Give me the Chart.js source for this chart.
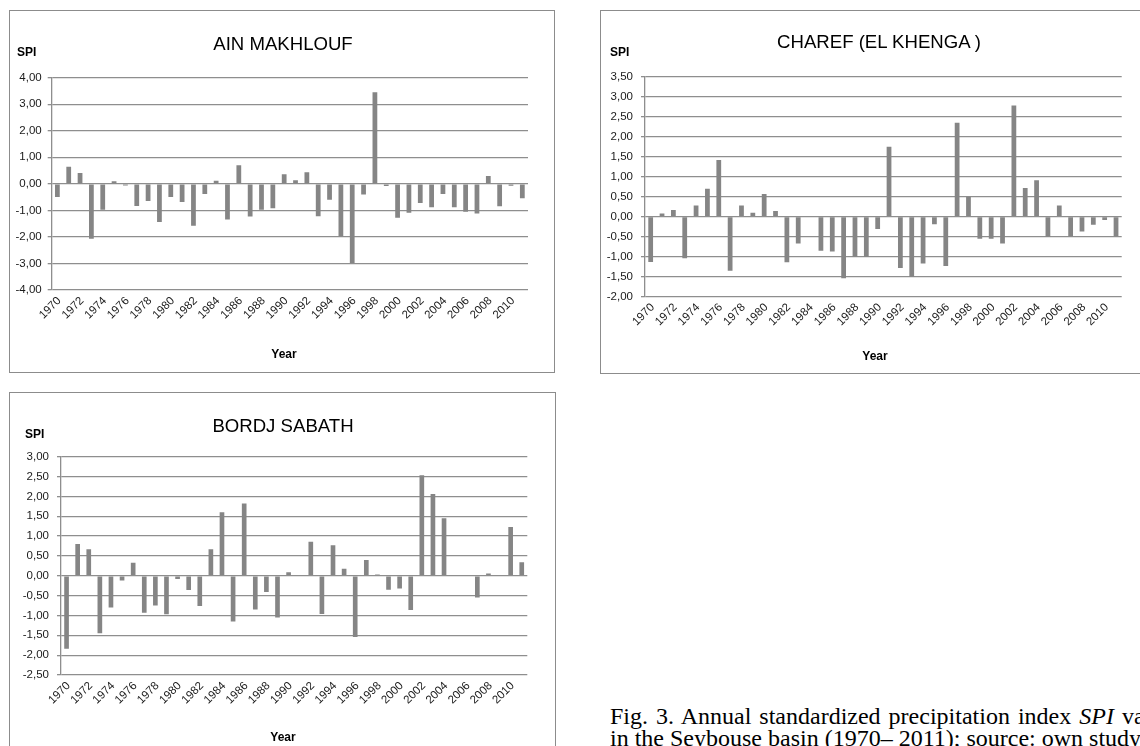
<!DOCTYPE html>
<html>
<head>
<meta charset="utf-8">
<script src="https://cdn.jsdelivr.net/npm/chart.js@4.4.1/dist/chart.umd.min.js"></script>
<style>
  html, body { margin:0; padding:0; background:#fff; width:1140px; height:746px; overflow:hidden; position:relative; }
  .box { position:absolute; border:1.5px solid #8c8c8c; box-sizing:border-box; }
  canvas { position:absolute; }
  .t { position:absolute; font-family:"Liberation Sans", Arial, sans-serif; color:#000; white-space:nowrap; transform:translate(-50%,-50%); }
  .title { font-size:18.6px; }
  .lab { font-size:12px; font-weight:bold; }
  .spi { transform:translate(0,-50%); }
  .cap { position:absolute; left:610px; top:705px; font-family:"Liberation Serif","Times New Roman",serif; font-size:24px; line-height:22px; white-space:nowrap; color:#000; }
  .cap .l1 { word-spacing:2px; }
</style>
</head>
<body>
<div class="box" style="left:9px;top:10px;width:546px;height:363px"></div>
<div class="box" style="left:600px;top:10px;width:546px;height:364px"></div>
<div class="box" style="left:9px;top:392px;width:547px;height:368px"></div>

<canvas id="c1" width="546" height="363" style="left:9px;top:10px"></canvas>
<canvas id="c2" width="546" height="364" style="left:600px;top:10px"></canvas>
<canvas id="c3" width="547" height="368" style="left:9px;top:392px"></canvas>

<div class="t title" style="left:283px;top:44px">AIN MAKHLOUF</div>
<div class="t lab spi" style="left:17px;top:52px">SPI</div>
<div class="t lab" style="left:284px;top:354px">Year</div>

<div class="t title" style="left:879px;top:42px">CHAREF (EL KHENGA )</div>
<div class="t lab spi" style="left:610px;top:52px">SPI</div>
<div class="t lab" style="left:875px;top:356px">Year</div>

<div class="t title" style="left:283px;top:426px">BORDJ SABATH</div>
<div class="t lab spi" style="left:25px;top:434px">SPI</div>
<div class="t lab" style="left:283px;top:737px">Year</div>

<div class="cap"><span class="l1">Fig. 3. Annual standardized precipitation index <i>SPI</i> values</span><br>in the Seybouse basin (1970– 2011); source: own study</div>

<script>
const years = ["1970","1971","1972","1973","1974","1975","1976","1977","1978","1979",
  "1980","1981","1982","1983","1984","1985","1986","1987","1988","1989",
  "1990","1991","1992","1993","1994","1995","1996","1997","1998","1999",
  "2000","2001","2002","2003","2004","2005","2006","2007","2008","2009",
  "2010","2011"];

const ainMakhlouf = [-0.50, 0.64, 0.41, -2.07, -0.98, 0.10, -0.06, -0.83, -0.65, -1.44,
  -0.50, -0.68, -1.58, -0.38, 0.12, -1.34, 0.70, -1.23, -0.98, -0.92,
  0.36, 0.14, 0.44, -1.22, -0.60, -1.97, -2.98, -0.40, 3.45, -0.08,
  -1.28, -1.09, -0.72, -0.88, -0.38, -0.88, -1.05, -1.12, 0.30, -0.84,
  -0.07, -0.54];

const charefElKhenga = [-1.13, 0.08, 0.17, -1.04, 0.28, 0.70, 1.42, -1.35, 0.28, 0.10,
  0.57, 0.14, -1.14, -0.67, 0.02, -0.85, -0.87, -1.54, -1.00, -1.00,
  -0.31, 1.75, -1.28, -1.50, -1.17, -0.19, -1.23, 2.35, 0.50, -0.55,
  -0.55, -0.67, 2.78, 0.72, 0.91, -0.50, 0.28, -0.49, -0.37, -0.20,
  -0.08, -0.49];

const bordjSabath = [-1.84, 0.80, 0.67, -1.45, -0.80, -0.12, 0.33, -0.93, -0.75, -0.97,
  -0.08, -0.36, -0.76, 0.67, 1.60, -1.15, 1.82, -0.85, -0.41, -1.05,
  0.09, 0.00, 0.86, -0.96, 0.77, 0.18, -1.54, 0.40, 0.03, -0.35,
  -0.32, -0.86, 2.53, 2.06, 1.45, 0.00, 0.00, -0.55, 0.06, 0.00,
  1.23, 0.34];

const yAinMakhlouf = {min:-4, max:4, step:1};
const yCharef = {min:-2, max:3.5, step:0.5};
const yBordj = {min:-2.5, max:3, step:0.5};

const FONT = '"Liberation Sans", Arial, sans-serif';
const GRID = '#8e8e8e';
const BAR = '#858585';

function makeChart(id, values, yr, box, plot, yPad) {
  const ctx = document.getElementById(id);
  const yw = plot.l - box.l;
  const xh = box.b - plot.b;
  new Chart(ctx, {
    type: 'bar',
    data: { labels: years, datasets: [{ data: values, backgroundColor: BAR, borderWidth: 0,
            barPercentage: 0.42, categoryPercentage: 1.0 }] },
    options: {
      responsive: false, animation: false, devicePixelRatio: 1,
      layout: { padding: { left: 0, top: plot.t - box.t, right: box.r - plot.r, bottom: 0 } },
      plugins: { legend: { display: false }, tooltip: { enabled: false }, title: { display: false } },
      scales: {
        x: {
          grid: { display: false, drawTicks: false },
          border: { display: false },
          ticks: { autoSkip: false, maxRotation: 45, minRotation: 45, padding: 4, labelOffset: 2,
                   color: '#1a1a1a', font: { family: FONT, size: 11.5 },
                   callback: (v, i) => (i % 2 === 0 ? years[i] : '') },
          afterFit: s => { s.height = xh; }
        },
        y: {
          min: yr.min, max: yr.max,
          ticks: { stepSize: yr.step, padding: yPad, color: '#1a1a1a', font: { family: FONT, size: 11.5 },
                   callback: v => Number(v).toFixed(2).replace('.', ',') },
          grid: { color: GRID, lineWidth: 1.3, tickLength: 4, drawTicks: true },
          border: { display: true, color: GRID, width: 1.3 },
          afterFit: s => { s.width = yw; }
        }
      }
    }
  });
}

makeChart('c1', ainMakhlouf, yAinMakhlouf,
  {l:9, t:10, r:555, b:373}, {l:51.7, t:77.7, r:528, b:290}, 6);
makeChart('c2', charefElKhenga, yCharef,
  {l:600, t:10, r:1146, b:374}, {l:645, t:76.7, r:1121.7, b:296.7}, 8);
makeChart('c3', bordjSabath, yBordj,
  {l:9, t:392, r:556, b:760}, {l:61, t:456.7, r:527.3, b:675}, 8);
</script>
</body>
</html>
